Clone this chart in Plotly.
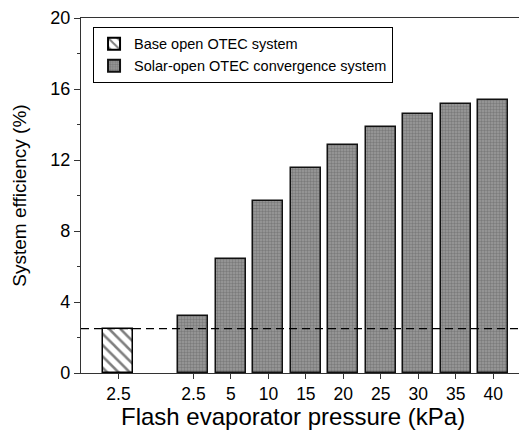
import plotly.graph_objects as go

# Data
base_label = ["2.5"]
base_values = [2.5]
solar_labels = ["2.5", "5", "10", "15", "20", "25", "30", "35", "40"]
solar_values = [3.2, 6.45, 9.7, 11.55, 12.85, 13.85, 14.6, 15.15, 15.4]
reference_line = 2.5
x_title = "Flash evaporator pressure (kPa)"
y_title = "System efficiency (%)"

# positions: base bar, one empty slot, then the solar bars
base_x = [0]
solar_x = [i + 2 for i in range(len(solar_labels))]
tick_vals = base_x + solar_x
tick_text = base_label + solar_labels

FONT = "Arial, Liberation Sans, sans-serif"

fig = go.Figure()
fig.add_trace(go.Bar(
    x=base_x, y=base_values, name="Base open OTEC system",
    width=0.8,
    marker=dict(color="white", line=dict(color="black", width=1.5),
                pattern=dict(shape="\\", fgcolor="black", bgcolor="white",
                             size=8, solidity=0.32)),
))
fig.add_trace(go.Bar(
    x=solar_x, y=solar_values, name="Solar-open OTEC convergence system",
    width=0.8,
    marker=dict(color="#8a8a8a", line=dict(color="#111", width=1.5),
                pattern=dict(shape=".", fgcolor="#5a5a5a", bgcolor="#9c9c9c",
                             size=3, solidity=0.5)),
))

fig.add_shape(type="line", xref="paper", yref="y", x0=0, x1=0.99,
              y0=reference_line, y1=reference_line,
              line=dict(color="black", width=1.2, dash="8px,5px"), layer="above")

fig.add_annotation(text=x_title, xref="paper", yref="paper", x=0.475, y=-0.123,
                   xanchor="center", yanchor="middle", showarrow=False,
                   font=dict(size=24, family=FONT, color="black"))

fig.update_layout(
    width=519, height=423,
    margin=dict(l=73, r=0, t=8, b=58),
    plot_bgcolor="white", paper_bgcolor="white",
    font=dict(family=FONT, size=18, color="black"),
    showlegend=True,
    bargap=0,
    legend=dict(x=0.027, y=0.975, xanchor="left", yanchor="top",
                bordercolor="black", borderwidth=1, bgcolor="white",
                font=dict(size=14.5, family=FONT), tracegroupgap=0,
                itemsizing="constant"),
    xaxis=dict(range=[-1, 10.9], tickvals=tick_vals, ticktext=tick_text,
               showline=True, linecolor="#333", linewidth=1.2, mirror=True,
               ticks="outside", ticklen=5, tickcolor="#333", showgrid=False,
               zeroline=False, ticklabeloverflow="allow",
               tickfont=dict(size=17.5)),
    yaxis=dict(range=[0, 20], dtick=4, tick0=0,
               showline=True, linecolor="#333", linewidth=1.2,
               ticks="outside", ticklen=6, tickcolor="#333", showgrid=False,
               zeroline=False, ticklabeloverflow="allow",
               minor=dict(dtick=2, ticks="outside", ticklen=3, tickcolor="#333", showgrid=False),
               title=dict(text=y_title, font=dict(size=19), standoff=18),
               tickfont=dict(size=18)),
)

fig.write_html("out.html")
